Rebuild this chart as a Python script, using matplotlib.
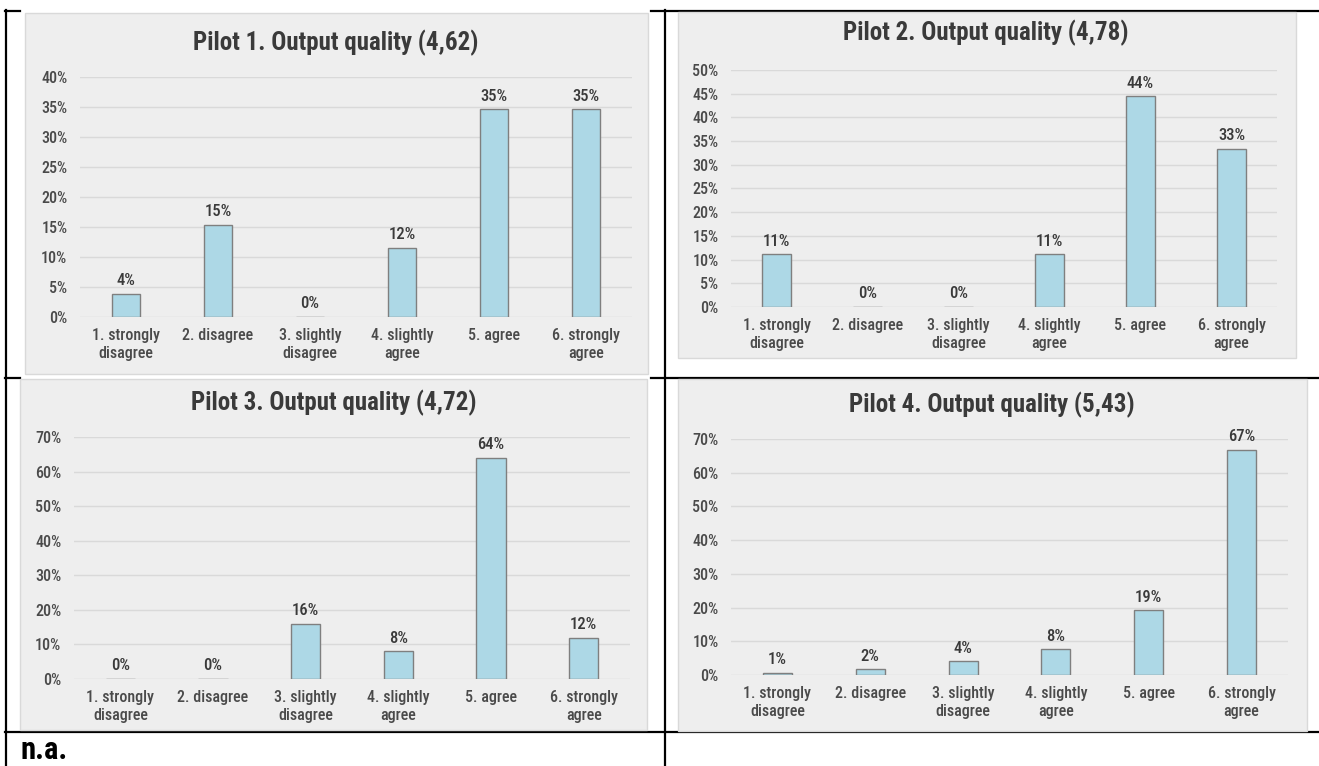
import matplotlib
matplotlib.use("Agg")
import matplotlib.pyplot as plt
from matplotlib import font_manager
from matplotlib.patches import Rectangle
from matplotlib.lines import Line2D
from matplotlib.ticker import FuncFormatter

# ---- data -------------------------------------------------------------
categories = ["1. strongly\ndisagree", "2. disagree", "3. slightly\ndisagree",
              "4. slightly\nagree", "5. agree", "6. strongly\nagree"]

titles = ["Pilot 1. Output quality (4,62)", "Pilot 2. Output quality (4,78)",
          "Pilot 3. Output quality (4,72)", "Pilot 4. Output quality (5,43)"]

pilot1_pct = [3.85, 15.38, 0.0, 11.54, 34.62, 34.62]
pilot2_pct = [11.11, 0.0, 0.0, 11.11, 44.44, 33.33]
pilot3_pct = [0.0, 0.0, 16.0, 8.0, 64.0, 12.0]
pilot4_pct = [0.6, 1.7, 4.1, 7.6, 19.2, 66.8]

y_max = [40, 50, 70, 70]
y_step = [5, 5, 10, 10]

empty_cell_text = "n.a."

# ---- styling -----------------------------------------------------------
names = {f.name for f in font_manager.fontManager.ttflist}
base_font = next(n for n in ["Liberation Sans Narrow", "Roboto Condensed",
                             "Open Sans Condensed", "Lato", "DejaVu Sans"]
                 if n in names)
plt.rcParams["font.family"] = [base_font, "DejaVu Sans"]

W, H = 1319, 766
PANEL_BG = "#eeeeee"
PANEL_EDGE = "#d9d9d9"
GRID = "#d9d9d9"
BAR_FACE = "#add8e6"
BAR_EDGE = "#7f7f7f"
TEXT = "#3a3a3a"
TICK_TEXT = "#4a4a4a"

fig = plt.figure(figsize=(W / 100, H / 100), dpi=100)
fig.patch.set_facecolor("white")


def fx(x):
    return x / W


def fy(y):
    return 1 - y / H


def hline(y, x0, x1):
    fig.add_artist(Line2D([fx(x0), fx(x1)], [fy(y), fy(y)], color="black",
                          lw=1.6, transform=fig.transFigure, zorder=0))


def vline(x, y0, y1):
    fig.add_artist(Line2D([fx(x), fx(x)], [fy(y0), fy(y1)], color="black",
                          lw=1.6, transform=fig.transFigure, zorder=0))


# table grid surrounding the charts
hline(11, 5, 20)
hline(11, 651, W)
hline(378, 5, 20)
hline(378, 651, W)
hline(732, 5, W)
vline(6, 10, H)
vline(665, 10, H)

# panel boxes (x0, y0, x1, y1) and plot areas in pixels
panels = [(25, 13, 648, 374), (678, 12, 1296, 358),
          (20, 379, 647, 730), (678, 379, 1307, 731)]
plot_areas = [(80, 77, 632, 317), (731, 70, 1277, 307),
              (74, 437, 630, 679), (731, 439, 1288, 675)]
title_pos = [(336, 43), (986, 33), (334, 403), (992, 405)]

series = [pilot1_pct, pilot2_pct, pilot3_pct, pilot4_pct]

for i, values in enumerate(series):
    bx0, by0, bx1, by1 = panels[i]
    fig.add_artist(Rectangle((fx(bx0), fy(by1)), (bx1 - bx0) / W, (by1 - by0) / H,
                             transform=fig.transFigure, facecolor=PANEL_BG,
                             edgecolor=PANEL_EDGE, lw=1.0, zorder=1))

    ax0, ay0, ax1, ay1 = plot_areas[i]
    ax = fig.add_axes([fx(ax0), fy(ay1), (ax1 - ax0) / W, (ay1 - ay0) / H])
    ax.set_zorder(2)
    ax.patch.set_visible(False)

    x = range(len(categories))
    ax.bar(x, values, width=0.313, color=BAR_FACE, edgecolor=BAR_EDGE,
           linewidth=1.0, zorder=3)
    for xi, v in zip(x, values):
        ax.annotate(f"{round(v):.0f}%", (xi, v), xytext=(0, 4),
                    textcoords="offset points", ha="center", va="bottom",
                    fontsize=12, fontweight="medium", color=TEXT)

    ax.set_xlim(-0.5, len(categories) - 0.5)
    ax.set_ylim(0, y_max[i])
    ax.set_yticks(range(0, y_max[i] + 1, y_step[i]))
    ax.yaxis.set_major_formatter(FuncFormatter(lambda v, _: f"{v:.0f}%"))
    ax.set_xticks(list(x))
    ax.set_xticklabels(categories, linespacing=1.25)
    ax.tick_params(axis="both", length=0, labelsize=11.5, colors=TICK_TEXT)
    ax.tick_params(axis="y", pad=9)
    ax.tick_params(axis="x", pad=8)
    for lbl in ax.get_xticklabels() + ax.get_yticklabels():
        lbl.set_fontweight("medium")
    ax.grid(axis="y", color=GRID, lw=1.0, zorder=0)
    for s in ax.spines.values():
        s.set_visible(False)

    tx, ty = title_pos[i]
    fig.text(fx(tx), fy(ty), titles[i], ha="center", va="center",
             fontsize=18, fontweight="bold", color=TEXT, zorder=4)

fig.text(fx(20), fy(750), empty_cell_text, ha="left", va="center",
         fontsize=22, fontweight="bold", color="black")

fig.savefig("out.png", dpi=100)
